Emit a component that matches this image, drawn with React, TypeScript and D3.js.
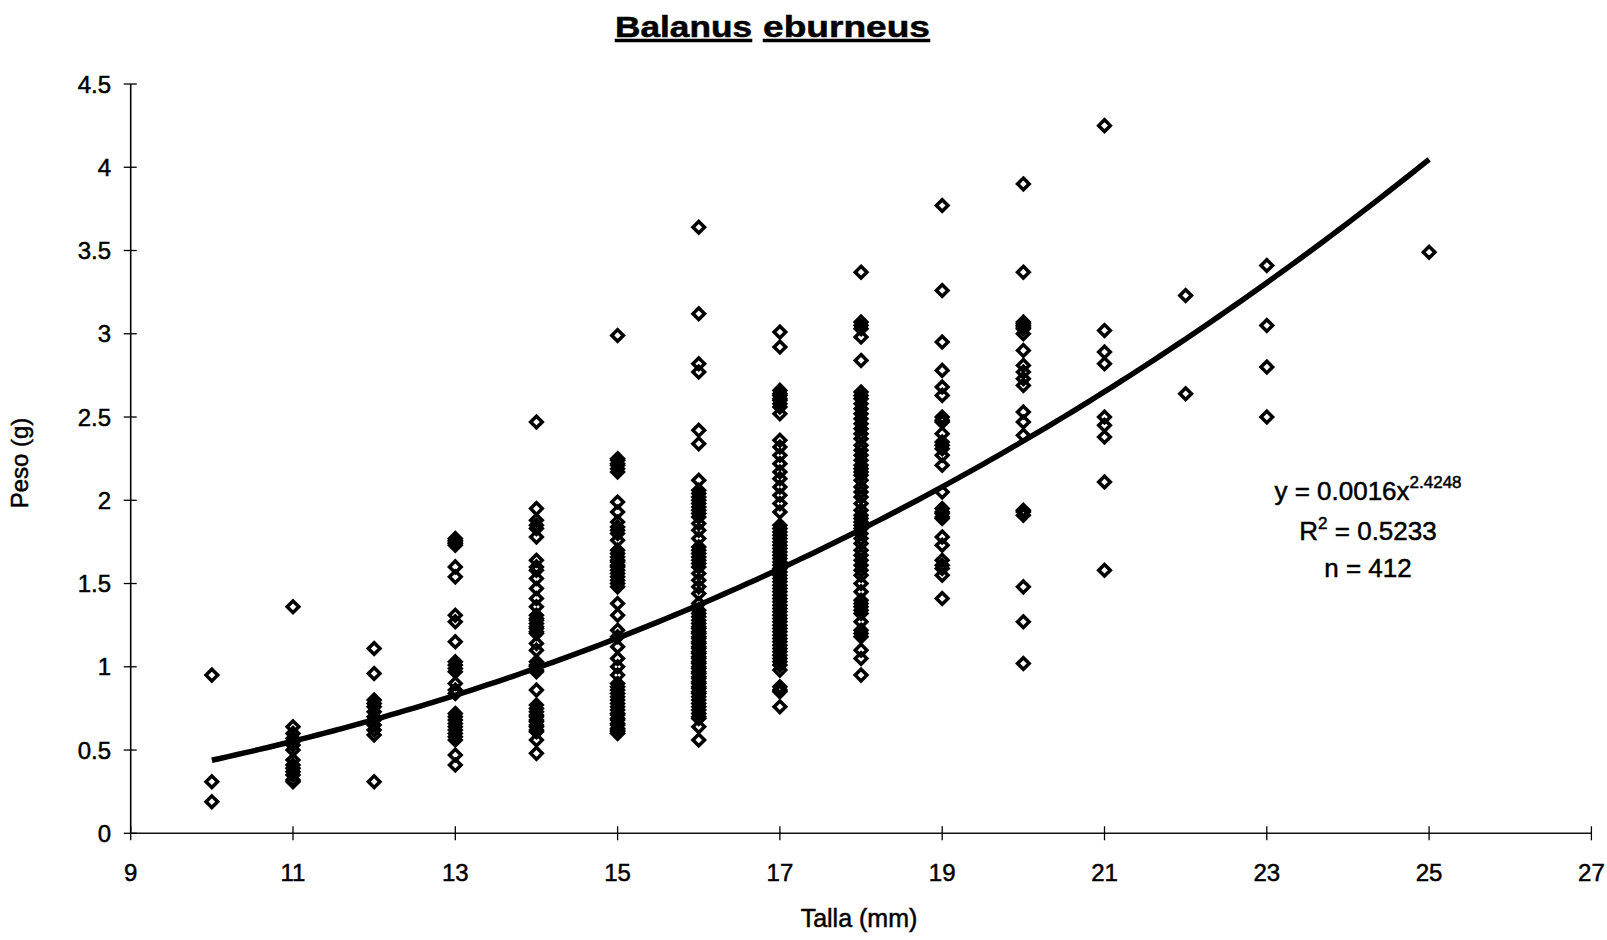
import React from "react";
import * as d3 from "d3";

// Talla (mm) categories
const tallas = [10, 11, 12, 13, 14, 15, 16, 17, 18, 19, 20, 21, 22, 23, 25];

// Peso (g) values per talla
const peso10 = [0.95, 0.31, 0.19];
const peso11 = [1.36, 0.64, 0.60, 0.57, 0.55, 0.53, 0.50, 0.44, 0.41, 0.39, 0.37, 0.35, 0.32, 0.31];
const peso12 = [1.11, 0.96, 0.80, 0.78, 0.76, 0.73, 0.70, 0.68, 0.65, 0.62, 0.59, 0.31];
const peso13 = [1.77, 1.76, 1.75, 1.74, 1.73, 1.60, 1.54, 1.31, 1.27, 1.15, 1.03, 1.01, 0.99, 0.97, 0.90, 0.86, 0.84, 0.72, 0.70, 0.68, 0.66, 0.64, 0.62, 0.60, 0.58, 0.56, 0.47, 0.41];
const peso14 = [2.47, 1.95, 1.88, 1.85, 1.83, 1.78, 1.64, 1.60, 1.58, 1.53, 1.47, 1.41, 1.36, 1.31, 1.29, 1.28, 1.26, 1.24, 1.23, 1.21, 1.20, 1.14, 1.10, 1.03, 1.01, 1.00, 0.98, 0.97, 0.86, 0.77, 0.75, 0.73, 0.71, 0.70, 0.68, 0.67, 0.65, 0.64, 0.62, 0.61, 0.56, 0.48];
const peso15 = [2.99, 2.25, 2.24, 2.22, 2.21, 2.19, 2.17, 1.99, 1.93, 1.87, 1.84, 1.82, 1.80, 1.76, 1.70, 1.68, 1.66, 1.64, 1.63, 1.61, 1.60, 1.58, 1.56, 1.54, 1.52, 1.50, 1.48, 1.38, 1.31, 1.22, 1.18, 1.12, 1.05, 1.00, 0.95, 0.90, 0.88, 0.86, 0.84, 0.82, 0.80, 0.78, 0.76, 0.74, 0.72, 0.71, 0.69, 0.68, 0.66, 0.65, 0.63, 0.62, 0.61, 0.60];
const peso16 = [3.64, 3.12, 2.82, 2.77, 2.42, 2.34, 2.12, 2.06, 2.04, 2.02, 2.00, 1.98, 1.96, 1.94, 1.92, 1.90, 1.86, 1.82, 1.77, 1.72, 1.70, 1.68, 1.66, 1.64, 1.62, 1.60, 1.56, 1.52, 1.48, 1.44, 1.38, 1.34, 1.32, 1.30, 1.28, 1.26, 1.24, 1.23, 1.21, 1.20, 1.18, 1.17, 1.15, 1.14, 1.12, 1.11, 1.09, 1.08, 1.06, 1.05, 1.03, 1.02, 1.00, 0.99, 0.97, 0.96, 0.94, 0.93, 0.91, 0.90, 0.88, 0.87, 0.85, 0.84, 0.82, 0.80, 0.78, 0.76, 0.74, 0.72, 0.70, 0.69, 0.64, 0.56];
const peso17 = [3.01, 2.92, 2.66, 2.64, 2.63, 2.61, 2.60, 2.58, 2.56, 2.52, 2.36, 2.32, 2.27, 2.22, 2.17, 2.13, 2.08, 2.03, 1.98, 1.93, 1.85, 1.83, 1.81, 1.79, 1.77, 1.75, 1.73, 1.71, 1.69, 1.67, 1.65, 1.63, 1.61, 1.59, 1.57, 1.55, 1.53, 1.51, 1.49, 1.47, 1.45, 1.43, 1.41, 1.39, 1.37, 1.35, 1.33, 1.31, 1.29, 1.27, 1.25, 1.23, 1.21, 1.19, 1.17, 1.15, 1.13, 1.11, 1.09, 1.07, 1.05, 1.03, 1.01, 0.98, 0.88, 0.86, 0.85, 0.76];
const peso18 = [3.37, 3.07, 3.05, 3.03, 2.98, 2.84, 2.65, 2.63, 2.61, 2.58, 2.55, 2.52, 2.49, 2.46, 2.43, 2.40, 2.37, 2.33, 2.30, 2.27, 2.24, 2.21, 2.19, 2.17, 2.15, 2.12, 2.08, 2.05, 2.02, 1.98, 1.94, 1.91, 1.89, 1.87, 1.85, 1.83, 1.80, 1.77, 1.74, 1.70, 1.67, 1.64, 1.61, 1.58, 1.55, 1.50, 1.45, 1.40, 1.38, 1.36, 1.34, 1.32, 1.27, 1.22, 1.20, 1.18, 1.10, 1.05, 0.95];
const peso19 = [3.77, 3.26, 2.95, 2.78, 2.68, 2.63, 2.50, 2.48, 2.47, 2.40, 2.35, 2.33, 2.31, 2.27, 2.21, 2.05, 1.95, 1.93, 1.92, 1.90, 1.89, 1.78, 1.73, 1.64, 1.61, 1.59, 1.55, 1.41];
const peso20 = [3.90, 3.37, 3.07, 3.06, 3.05, 3.04, 3.03, 3.00, 2.90, 2.81, 2.77, 2.73, 2.69, 2.53, 2.47, 2.39, 1.94, 1.93, 1.91, 1.48, 1.27, 1.02];
const peso21 = [4.25, 3.02, 2.89, 2.82, 2.50, 2.45, 2.38, 2.11, 1.58];
const peso22 = [3.23, 2.64];
const peso23 = [3.41, 3.05, 2.80, 2.50];
const peso25 = [3.49];

const pesos = [peso10, peso11, peso12, peso13, peso14, peso15, peso16, peso17, peso18, peso19, peso20, peso21, peso22, peso23, peso25];

// Axis ticks
const xTicks = [9, 11, 13, 15, 17, 19, 21, 23, 25, 27];
const yTicks = [0, 0.5, 1, 1.5, 2, 2.5, 3, 3.5, 4, 4.5];
const yTickLabels = ["0", "0.5", "1", "1.5", "2", "2.5", "3", "3.5", "4", "4.5"];

// Power trendline y = a x^b
const trendA = 0.00165;
const trendB = 2.4248;
const trendRange = [10, 25];

const FONT = "'Liberation Sans', Arial, Helvetica, sans-serif";

export default function App() {
  const W = 1607;
  const H = 940;
  const x = d3.scaleLinear().domain([9, 27]).range([130.7, 1591.4]);
  const y = d3.scaleLinear().domain([0, 4.5]).range([833.3, 84]);

  const points: { t: number; p: number }[] = [];
  tallas.forEach((t, i) => pesos[i].forEach((p) => points.push({ t, p })));

  const curveXs = d3.range(trendRange[0], trendRange[1] + 0.0001, 0.1);
  const line = d3
    .line<number>()
    .x((t) => x(t))
    .y((t) => y(trendA * Math.pow(t, trendB)))
    .curve(d3.curveLinear);

  const h = 5.8;
  const diamond = `M0,${-h}L${h},0L0,${h}L${-h},0Z`;
  const txtStroke = { stroke: "#000", strokeWidth: 0.5 };

  return (
    <svg
      width={W}
      height={H}
      style={{ position: "absolute", left: 0, top: 0, background: "#fff" }}
      fontFamily={FONT}
    >
      <rect width={W} height={H} fill="#fff" />
      {/* Title */}
      <text x={615} y={37} fontSize={30} fontWeight="bold" textLength={137} lengthAdjust="spacingAndGlyphs" textDecoration="underline" {...txtStroke}>
        Balanus
      </text>
      <text x={763} y={37} fontSize={30} fontWeight="bold" textLength={167} lengthAdjust="spacingAndGlyphs" textDecoration="underline" {...txtStroke}>
        eburneus
      </text>

      {/* Axes */}
      <line x1={x(9)} x2={x(9)} y1={y(4.5)} y2={y(0)} stroke="#000" strokeWidth={1.6} />
      <line x1={x(9)} x2={x(27)} y1={y(0)} y2={y(0)} stroke="#111" strokeWidth={1.6} />
      {yTicks.map((v, i) => (
        <g key={"yt" + i}>
          <line x1={x(9) - 7} x2={x(9) + 6} y1={y(v)} y2={y(v)} stroke="#000" strokeWidth={1.3} />
          <text x={111} y={y(v)} dy="0.36em" textAnchor="end" fontSize={24} {...txtStroke}>
            {yTickLabels[i]}
          </text>
        </g>
      ))}
      {xTicks.map((v) => (
        <g key={"xt" + v}>
          <line x1={x(v)} x2={x(v)} y1={y(0) - 7} y2={y(0) + 7} stroke="#000" strokeWidth={1.3} />
          <text x={x(v)} y={881} textAnchor="middle" fontSize={24} {...txtStroke}>
            {v}
          </text>
        </g>
      ))}

      {/* Axis titles */}
      <text x={859} y={927} textAnchor="middle" fontSize={25} {...txtStroke}>
        Talla (mm)
      </text>
      <text transform="translate(28,463) rotate(-90)" textAnchor="middle" fontSize={24} {...txtStroke}>
        Peso (g)
      </text>

      {/* Points */}
      {points.map((d, i) => (
        <path
          key={"p" + i}
          d={diamond}
          transform={`translate(${x(d.t)},${y(d.p)})`}
          fill="none"
          stroke="#000"
          strokeWidth={3.5}
        />
      ))}

      {/* Trendline */}
      <path d={line(curveXs) || ""} fill="none" stroke="#000" strokeWidth={5.5} />

      {/* Equation */}
      <text x={1368} y={500} textAnchor="middle" fontSize={26} {...txtStroke}>
        y = 0.0016x
        <tspan fontSize={17} dy={-12}>2.4248</tspan>
      </text>
      <text x={1368} y={540} textAnchor="middle" fontSize={26} {...txtStroke}>
        R<tspan fontSize={17} dy={-11}>2</tspan>
        <tspan dy={11}> = 0.5233</tspan>
      </text>
      <text x={1368} y={577} textAnchor="middle" fontSize={26} {...txtStroke}>
        n = 412
      </text>
    </svg>
  );
}
